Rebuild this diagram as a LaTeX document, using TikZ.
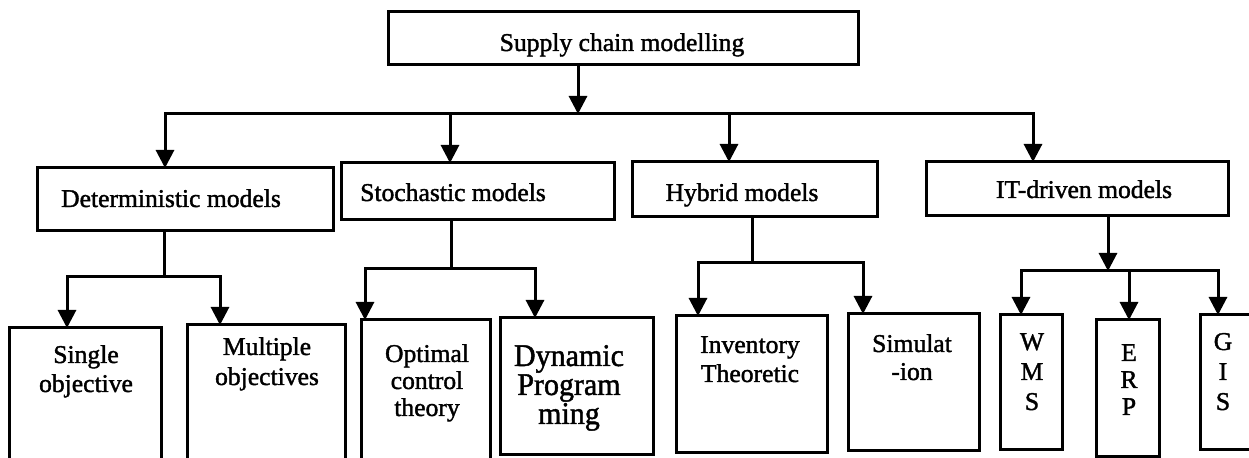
\documentclass[tikz,border=0pt]{standalone}
\usepackage{fontspec}
\setmainfont{Liberation Serif}[FakeBold=1.5]
\usetikzlibrary{arrows.meta}

% centred lines stacked with a fixed baseline distance; the box baseline is the first line's
\newcommand\txtlines[2]{\vtop{\lineskiplimit=-100pt \baselineskip=#1 \halign{\hfil##\hfil\cr #2\crcr}}}

% rectangle node given by its corner coordinates (in pixel units)
\newcommand\mkbox[5]{%
  \pgfmathsetmacro\bw{(#4-#2)*0.5}%
  \pgfmathsetmacro\bh{(#5-#3)*0.5}%
  \node[box, minimum width=\bw pt, minimum height=\bh pt] (#1) at ({(#2+#4)/2},{(#3+#5)/2}) {};}

\begin{document}
\begin{tikzpicture}[x=0.5pt,y=-0.5pt,
  every node/.style={inner sep=0pt, outer sep=0pt},
  box/.style={draw, line width=1.5pt, rectangle},
  lbl/.style={anchor=base, font=\fontsize{12.8}{14.5}\selectfont},
  conn/.style={line width=1.5pt},
  arr/.style={conn, -{Triangle[length=9pt,width=9pt]}},
]
\clip (0,0) rectangle (1249,458);
\fill[white] (0,0) rectangle (1249,458);

% boxes
\mkbox{top}{388}{12}{858}{65}
\mkbox{det}{37}{168}{333}{231}
\mkbox{stoch}{341}{163}{614}{220}
\mkbox{hyb}{632}{162}{877}{217}
\mkbox{it}{926}{162}{1228}{216}
\mkbox{single}{9}{328}{161}{480}
\mkbox{multi}{187}{325}{345}{480}
\mkbox{opt}{361}{320}{490}{461}
\mkbox{dyn}{500}{318}{653}{455}
\mkbox{inv}{676}{316}{827}{453}
\mkbox{sim}{848}{314}{979}{451}
\mkbox{wms}{1000}{315}{1062}{450}
\mkbox{erp}{1096}{320}{1159}{457}
\mkbox{gis}{1200}{315}{1280}{450}

% labels
\node[lbl] (tTop) at (622,51) {Supply chain modelling};
\node[lbl] (tDet) at (171,207) {Deterministic models};
\node[lbl] (tStoch) at (453,201) {Stochastic models};
\node[lbl] (tHyb) at (742,201) {Hybrid models};
\node[lbl] (tIt) at (1084,198) {IT-driven models};
\node[lbl] (tSingle) at (86,363) {\txtlines{14.5pt}{Single\cr objective}};
\node[lbl] (tMulti) at (267,355) {\txtlines{15pt}{Multiple\cr objectives}};
\node[lbl] (tOpt) at (427,362) {\txtlines{13.5pt}{Optimal\cr control\cr theory}};
\node[lbl, font=\fontsize{15}{17}\selectfont] (tDyn) at (569,366)
  {\scalebox{1}[1.05]{\txtlines{13.8pt}{Dynamic\cr Program\cr ming}}};
\node[lbl] (tInv) at (750,353) {\txtlines{14.5pt}{Inventory\cr Theoretic}};
\node[lbl] (tSim) at (912,352) {\txtlines{14pt}{Simulat\cr -ion}};
\node[lbl] (tWms) at (1032,350) {\txtlines{15pt}{W\cr M\cr S}};
\node[lbl] (tErp) at (1129,361) {\txtlines{13.5pt}{E\cr R\cr P}};
\node[lbl] (tGis) at (1223,350) {\txtlines{15pt}{G\cr I\cr S}};

% junction points of the connectors
\coordinate (j0) at (578,114);
\coordinate (jd) at (165,114);
\coordinate (js) at (450,114);
\coordinate (jh) at (729,114);
\coordinate (jit) at (1033,114);

\coordinate (dstem) at (164,277);
\coordinate (dl) at (67,277);
\coordinate (dr) at (220,277);

\coordinate (sstem) at (451,269);
\coordinate (sl) at (365,269);
\coordinate (sr) at (535,269);

\coordinate (hstem) at (752,263);
\coordinate (hl) at (698,263);
\coordinate (hr) at (863,263);

\coordinate (istem) at (1108,271);
\coordinate (iw) at (1021,271);
\coordinate (ie) at (1129,271);
\coordinate (ig) at (1218,271);

% first level
\draw[arr] (top.south -| j0) -- (j0);
\draw[arr] (j0) -- (jd) -- (jd |- det.north);
\draw[arr] (j0) -- (jit) -- (jit |- it.north);
\draw[arr] (js) -- (js |- stoch.north);
\draw[arr] (jh) -- (jh |- hyb.north);

% deterministic branch
\draw[conn] (det.south -| dstem) -- (dstem);
\draw[arr] (dstem) -- (dl) -- (dl |- single.north);
\draw[arr] (dstem) -- (dr) -- (dr |- multi.north);

% stochastic branch
\draw[conn] (stoch.south -| sstem) -- (sstem);
\draw[arr] (sstem) -- (sl) -- (sl |- opt.north);
\draw[arr] (sstem) -- (sr) -- (sr |- dyn.north);

% hybrid branch
\draw[conn] (hyb.south -| hstem) -- (hstem);
\draw[arr] (hstem) -- (hl) -- (hl |- inv.north);
\draw[arr] (hstem) -- (hr) -- (hr |- sim.north);

% IT-driven branch
\draw[arr] (it.south -| istem) -- (istem);
\draw[arr] (istem) -- (iw) -- (iw |- wms.north);
\draw[arr] (istem) -- (ig) -- (ig |- gis.north);
\draw[arr] (ie) -- (ie |- erp.north);
\end{tikzpicture}
\end{document}
